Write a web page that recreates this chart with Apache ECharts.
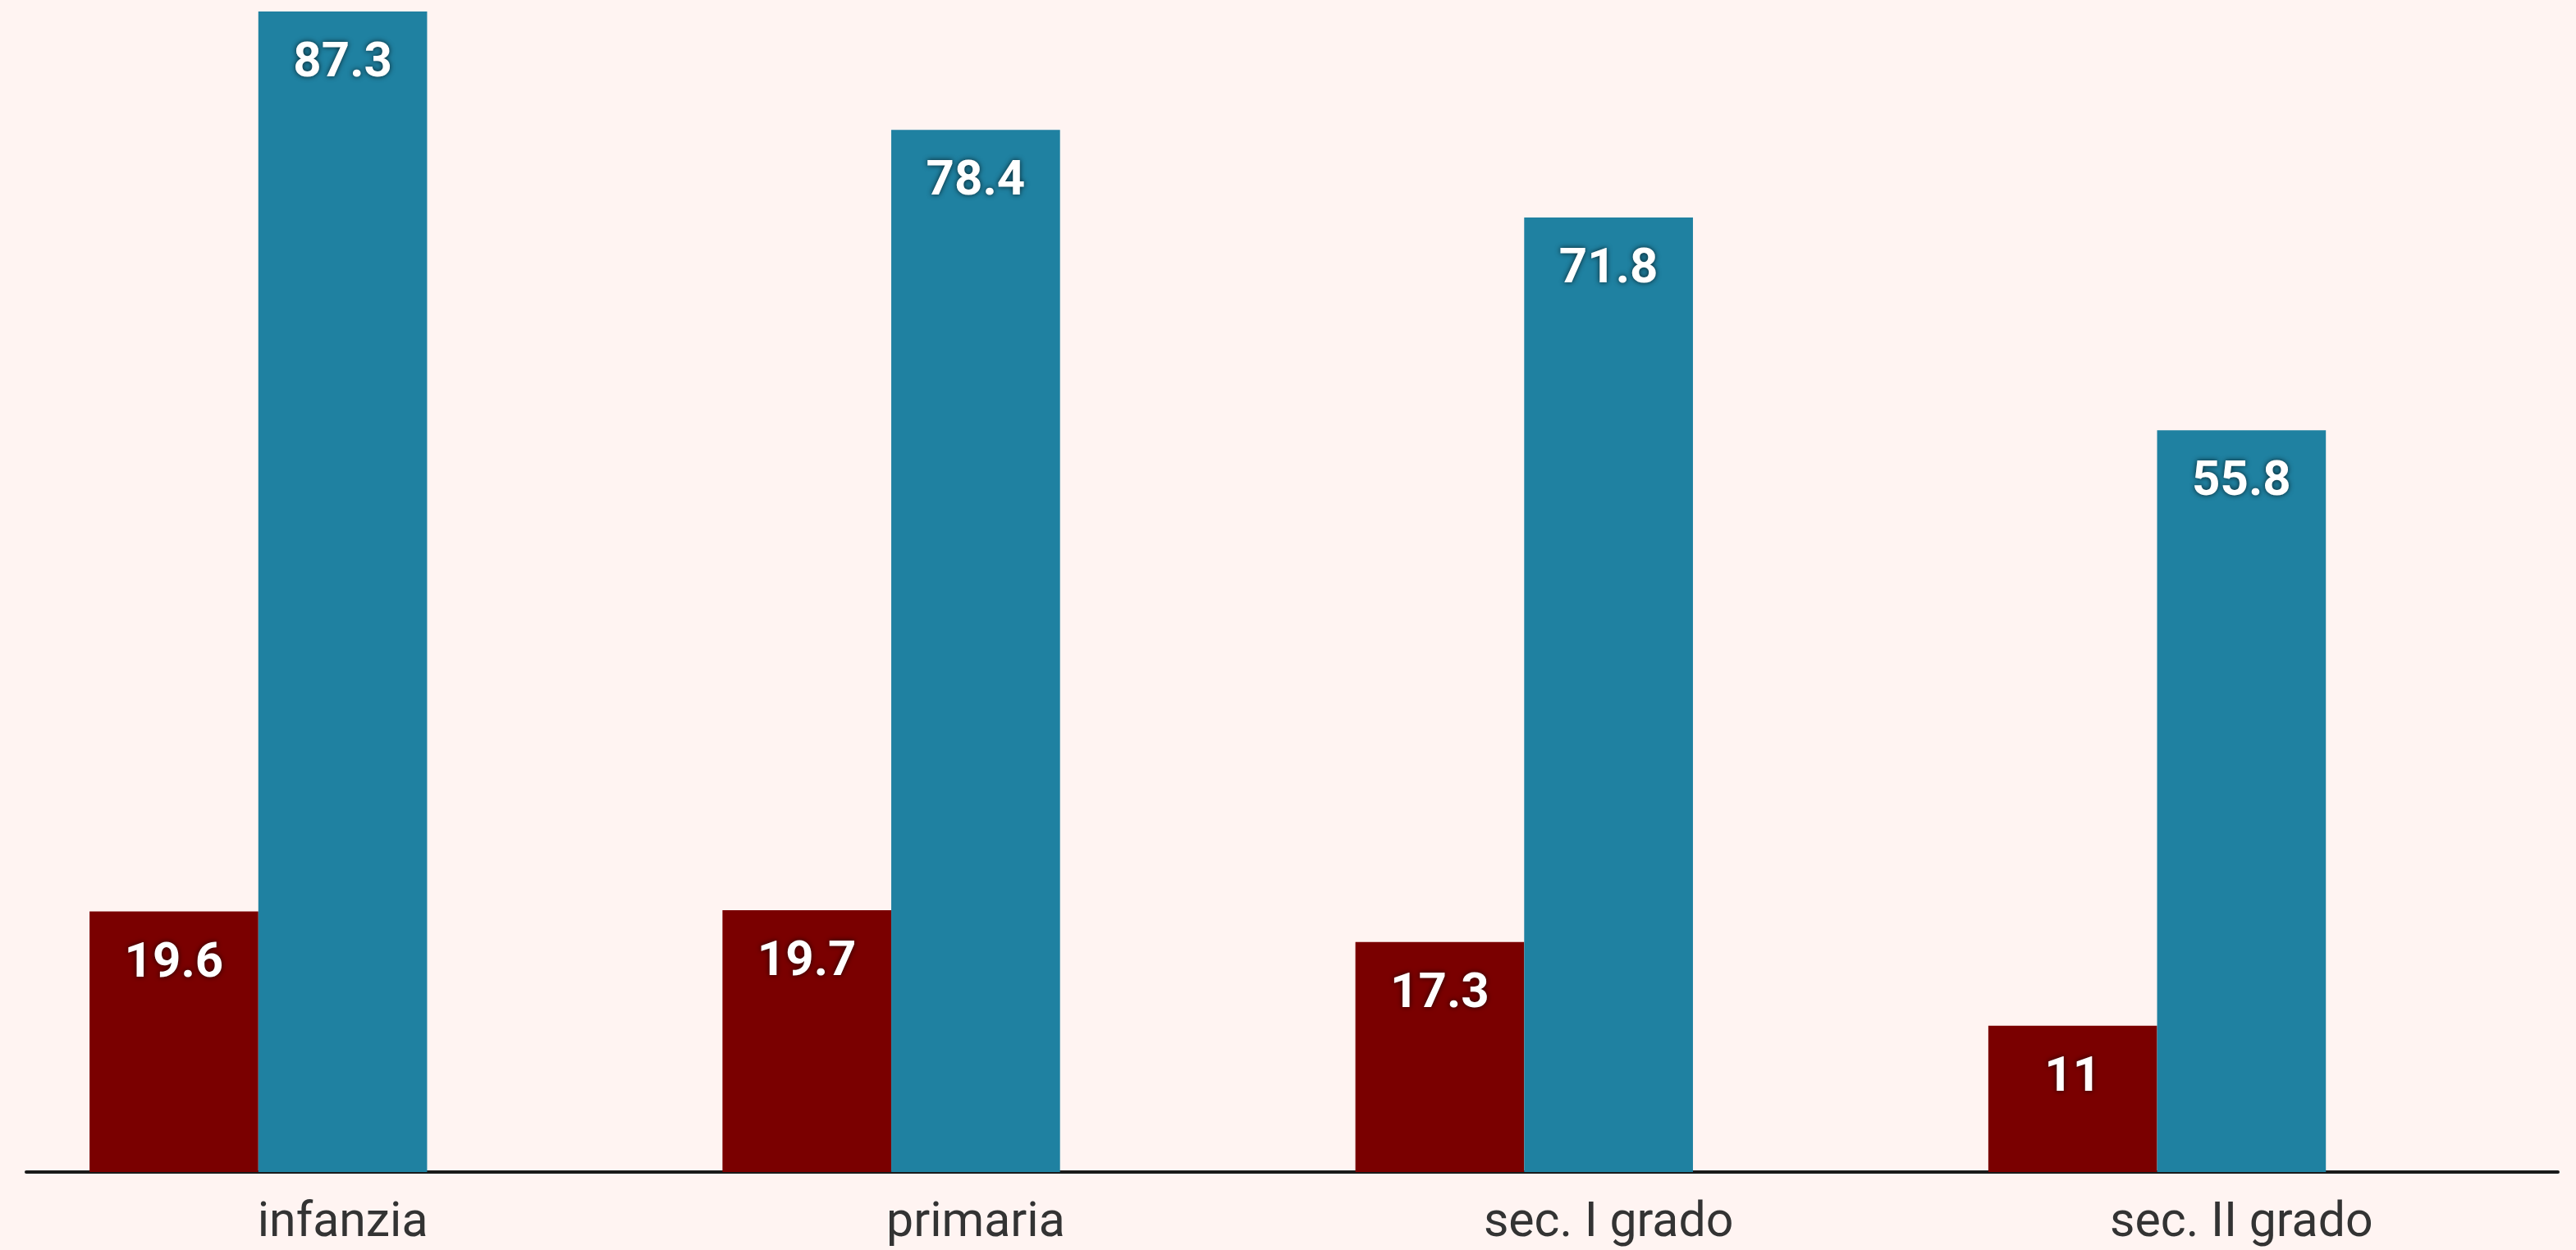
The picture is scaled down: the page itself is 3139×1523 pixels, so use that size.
<!DOCTYPE html>
<html>
<head>
<meta charset="utf-8">
<script src="https://cdn.jsdelivr.net/npm/echarts@6/dist/echarts.min.js"></script>
<style>
  html, body { margin: 0; padding: 0; background: #fff4f2; }
  #chart { width: 3139px; height: 1523px; }
</style>
</head>
<body>
<div id="chart"></div>
<script>
// categorie (ordini di scuola)
const categorie = ["infanzia", "primaria", "sec. I grado", "sec. II grado"];
// valori delle serie
const serieRossa = [19.6, 19.7, 17.3, 11];
const serieBlu = [87.3, 78.4, 71.8, 55.8];
// terza serie senza valori (occupa lo spazio nel gruppo)
const serieVuota = [null, null, null, null];

const myChart = echarts.init(document.getElementById("chart"));

const etichetta = {
  show: true,
  position: "insideTop",
  distance: 34,
  color: "#ffffff",
  fontFamily: "Roboto",
  fontWeight: "bold",
  fontSize: 60,
  textShadowColor: "rgba(0,0,0,0.75)",
  textShadowBlur: 6,
};

myChart.setOption({
  backgroundColor: "#fff4f2",
  animation: false,
  grid: {
    left: 32,
    right: 22,
    top: 14,
    bottom: 95,
  },
  xAxis: {
    type: "category",
    data: categorie,
    axisLine: { lineStyle: { color: "#1a1a1a", width: 4 } },
    axisTick: { show: false },
    axisLabel: {
      color: "#333333",
      fontFamily: "Roboto",
      fontSize: 59,
      margin: 34,
    },
  },
  yAxis: {
    type: "value",
    min: 0,
    max: function (v) {
      return v.max;
    },
    show: false,
    splitLine: { show: false },
  },
  series: [
    {
      type: "bar",
      data: serieRossa,
      barGap: "0%",
      barCategoryGap: "20%",
      itemStyle: { color: "#7a0000" },
      label: etichetta,
    },
    {
      type: "bar",
      data: serieBlu,
      itemStyle: { color: "#1f81a1" },
      label: etichetta,
    },
    {
      type: "bar",
      data: serieVuota,
      itemStyle: { color: "#999999" },
    },
  ],
});
</script>
</body>
</html>
